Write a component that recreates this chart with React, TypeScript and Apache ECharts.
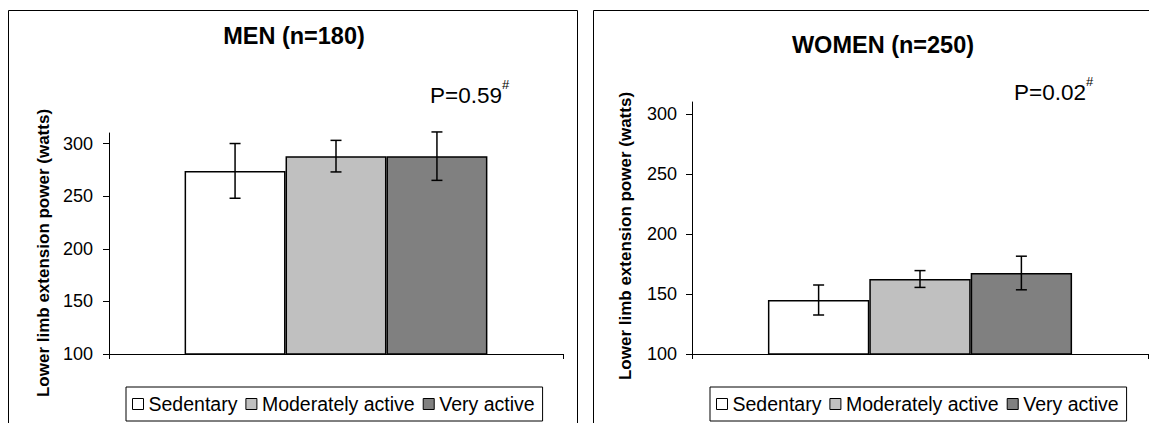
import React, { useEffect, useRef } from "react";
import * as echarts from "echarts";

// ---- data ----
const categories = [""];
const groups = ["Sedentary", "Moderately active", "Very active"];
const menMeans = [274, 288, 288];
const menSD = [26, 15, 23];
const womenMeans = [145, 162.5, 167.5];
const womenSD = [12.5, 7, 14];
const yTicks = [100, 150, 200, 250, 300];
const yMin = 100;
const yMax = 310;
const barColors = ["#FFFFFF", "#C0C0C0", "#808080"];
const panelTitles = ["MEN (n=180)", "WOMEN (n=250)"];
const pValues = ["P=0.59", "P=0.02"];
const yAxisTitle = "Lower limb extension power (watts)";

const FONT = "'Liberation Sans', Arial, Helvetica, sans-serif";
const GAP = 0.333;

function errorSeries(means: number[], sds: number[], idx: number) {
  return {
    type: "custom",
    xAxisIndex: idx,
    yAxisIndex: idx,
    z: 10,
    silent: true,
    clip: false,
    encode: { x: 0, y: 1 },
    data: means.map((m, i) => [0, m, sds[i], i]),
    renderItem: (params: any, api: any) => {
      const m = api.value(1);
      const sd = api.value(2);
      const k = api.value(3);
      const c = api.coord([0, m]);
      const band = api.size([1, 0])[0];
      const bw = (band * (1 - GAP)) / groups.length;
      const x = c[0] + (k - (groups.length - 1) / 2) * bw;
      const top = api.coord([0, m + sd])[1];
      const bot = api.coord([0, m - sd])[1];
      const hw = 5.5;
      const style = { stroke: "#000", lineWidth: 1.5 };
      return {
        type: "group",
        children: [
          { type: "line", shape: { x1: x, y1: top, x2: x, y2: bot }, style },
          { type: "line", shape: { x1: x - hw, y1: top, x2: x + hw, y2: top }, style },
          { type: "line", shape: { x1: x - hw, y1: bot, x2: x + hw, y2: bot }, style },
        ],
      };
    },
  };
}

function barSeries(means: number[], idx: number) {
  return groups.map((g, i) => ({
    type: "bar",
    name: g,
    xAxisIndex: idx,
    yAxisIndex: idx,
    data: [means[i]],
    barGap: "0%",
    barCategoryGap: "33.3%",
    itemStyle: { color: barColors[i], borderColor: "#000", borderWidth: 1.5 },
    emphasis: { disabled: true },
  }));
}

function xAxis(idx: number) {
  return {
    type: "category",
    gridIndex: idx,
    data: categories,
    boundaryGap: true,
    axisLine: { lineStyle: { color: "#000", width: 1 } },
    axisTick: { show: true, inside: false, length: 5, lineStyle: { color: "#000" } },
    axisLabel: { show: false },
    splitLine: { show: false },
  };
}

function yAxis(idx: number, margin: number) {
  return {
    type: "value",
    gridIndex: idx,
    min: yMin,
    max: yMax,
    interval: 50,
    axisLine: { show: true, lineStyle: { color: "#000", width: 1 } },
    axisTick: { show: true, inside: false, length: 6, customValues: yTicks, lineStyle: { color: "#000" } },
    axisLabel: {
      customValues: yTicks,
      margin,
      color: "#000",
      fontSize: 18,
      fontFamily: FONT,
    },
    splitLine: { show: false },
  };
}

function legend(left: number) {
  return {
    data: groups,
    left,
    top: 387,
    orient: "horizontal",
    icon: "rect",
    itemWidth: 11,
    itemHeight: 11,
    itemGap: 8,
    selectedMode: false,
    borderColor: "#000",
    borderWidth: 1,
    padding: [7, 8, 7, 6],
    itemStyle: { borderColor: "#000", borderWidth: 1 },
    textStyle: { fontSize: 19.5, color: "#000", fontFamily: FONT },
  };
}

function App() {
  const ref = useRef<HTMLDivElement>(null);
  useEffect(() => {
    document.body.style.margin = "0";
    document.body.style.overflow = "hidden";
    if (!ref.current) return;
    const chart = echarts.init(ref.current, null, { renderer: "svg" });
    const option: any = {
      animation: false,
      backgroundColor: "#fff",
      grid: [
        { left: 109, right: 1149 - 563, top: 133, bottom: 423 - 354, containLabel: false },
        { left: 692, right: 1, top: 102, bottom: 423 - 354, containLabel: false },
      ],
      xAxis: [xAxis(0), xAxis(1)],
      yAxis: [yAxis(0, 16), yAxis(1, 15)],
      legend: [legend(126), legend(710)],
      series: [
        ...barSeries(menMeans, 0),
        ...barSeries(womenMeans, 1),
        errorSeries(menMeans, menSD, 0),
        errorSeries(womenMeans, womenSD, 1),
      ],
      graphic: [
        {
          type: "rect",
          z: -1,
          shape: { x: 8.5, y: 10.5, width: 569, height: 460 },
          style: { fill: "none", stroke: "#000", lineWidth: 1 },
        },
        {
          type: "rect",
          z: -1,
          shape: { x: 593.5, y: 10.5, width: 620, height: 460 },
          style: { fill: "none", stroke: "#000", lineWidth: 1 },
        },
        {
          type: "text",
          style: {
            text: panelTitles[0],
            x: 294,
            y: 36,
            align: "center",
            verticalAlign: "middle",
            font: `bold 23.5px ${FONT}`,
            fill: "#000",
          },
        },
        {
          type: "text",
          style: {
            text: panelTitles[1],
            x: 883,
            y: 45,
            align: "center",
            verticalAlign: "middle",
            font: `bold 23.5px ${FONT}`,
            fill: "#000",
          },
        },
        {
          type: "text",
          style: {
            text: pValues[0],
            x: 430,
            y: 95,
            align: "left",
            verticalAlign: "middle",
            font: `22.5px ${FONT}`,
            fill: "#000",
          },
        },
        {
          type: "text",
          style: {
            text: "#",
            x: 502,
            y: 84,
            align: "left",
            verticalAlign: "middle",
            font: `13px ${FONT}`,
            fill: "#000",
          },
        },
        {
          type: "text",
          style: {
            text: pValues[1],
            x: 1014,
            y: 92,
            align: "left",
            verticalAlign: "middle",
            font: `22.5px ${FONT}`,
            fill: "#000",
          },
        },
        {
          type: "text",
          style: {
            text: "#",
            x: 1086,
            y: 81,
            align: "left",
            verticalAlign: "middle",
            font: `13px ${FONT}`,
            fill: "#000",
          },
        },
        {
          type: "text",
          x: 43,
          y: 253,
          rotation: Math.PI / 2,
          style: {
            text: yAxisTitle,
            x: 0,
            y: 0,
            align: "center",
            verticalAlign: "middle",
            font: `bold 17px ${FONT}`,
            fill: "#000",
          },
        },
        {
          type: "text",
          x: 625,
          y: 236,
          rotation: Math.PI / 2,
          style: {
            text: yAxisTitle,
            x: 0,
            y: 0,
            align: "center",
            verticalAlign: "middle",
            font: `bold 17px ${FONT}`,
            fill: "#000",
          },
        },
      ],
    };
    chart.setOption(option);
    return () => {
      chart.dispose();
    };
  }, []);
  return <div ref={ref} style={{ width: 1149, height: 423 }} />;
}

export default App;
